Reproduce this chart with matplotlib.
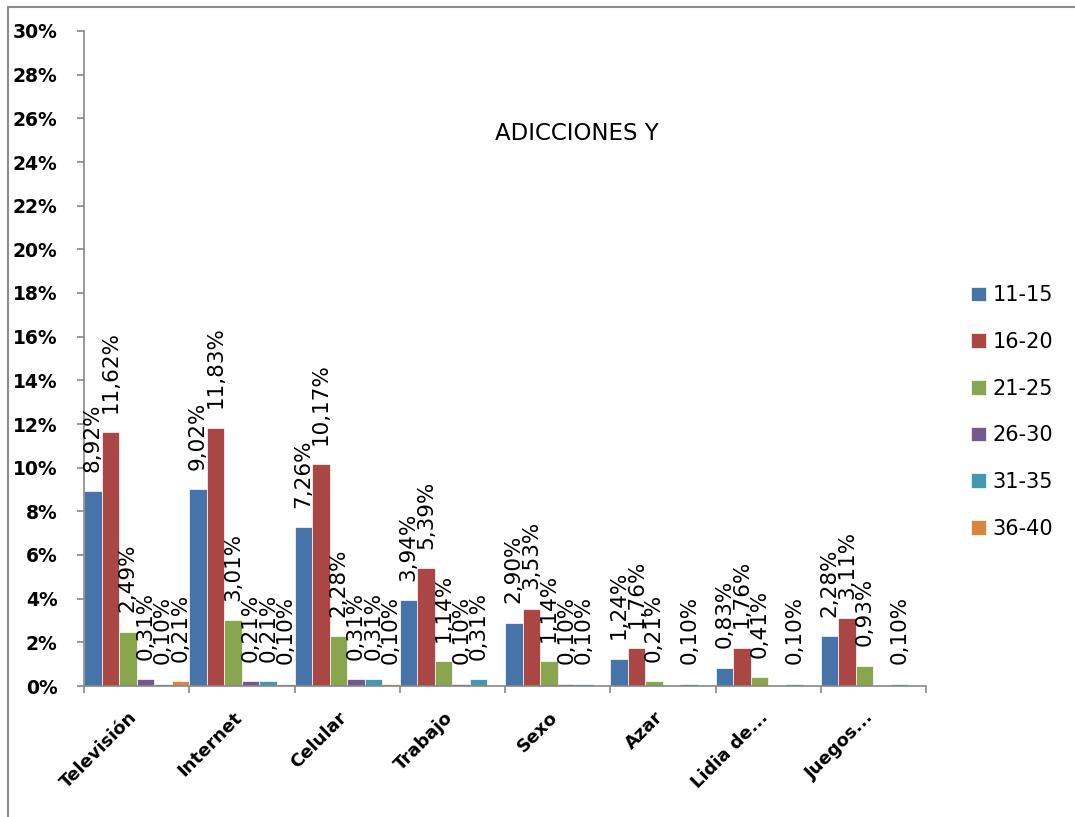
import numpy as np
import matplotlib
matplotlib.use("Agg")
import matplotlib.pyplot as plt
from matplotlib.lines import Line2D
from matplotlib.ticker import FuncFormatter, MultipleLocator

categories = ["Televisión", "Internet", "Celular", "Trabajo", "Sexo", "Azar",
              "Lidia de...", "Juegos..."]
groups = ["11-15", "16-20", "21-25", "26-30", "31-35", "36-40"]

# percentage per age group, one list per group across the categories
g11_15 = [8.92, 9.02, 7.26, 3.94, 2.90, 1.24, 0.83, 2.28]
g16_20 = [11.62, 11.83, 10.17, 5.39, 3.53, 1.76, 1.76, 3.11]
g21_25 = [2.49, 3.01, 2.28, 1.14, 1.14, 0.21, 0.41, 0.93]
g26_30 = [0.31, 0.21, 0.31, 0.10, 0.10, 0.0, 0.0, 0.0]
g31_35 = [0.10, 0.21, 0.31, 0.31, 0.10, 0.10, 0.10, 0.10]
g36_40 = [0.21, 0.10, 0.10, 0.0, 0.0, 0.0, 0.0, 0.0]

series = [g11_15, g16_20, g21_25, g26_30, g31_35, g36_40]
colors = ["#4673A8", "#AA4643", "#89A54E", "#71588F", "#4198AF", "#DB843D"]

W, H = 1075, 817
fig = plt.figure(figsize=(W / 100, H / 100), dpi=100)
ax = fig.add_axes([84 / W, 1 - 686 / H, (926 - 84) / W, (686 - 31) / H])

x = np.arange(len(categories))
bw = 1 / len(groups)
for i, (vals, col, name) in enumerate(zip(series, colors, groups)):
    pos = x - 0.5 + bw * (i + 0.5)
    ax.bar(pos, vals, width=bw, color=col, edgecolor="white", linewidth=0.5,
           label=name)
    for px, v in zip(pos, vals):
        if v <= 0:
            continue
        ax.annotate(f"{v:.2f}%".replace(".", ","), (px, v),
                    xytext=(0, 14), textcoords="offset points",
                    rotation=90, ha="center", va="bottom", fontsize=15.5)

ax.set_xlim(-0.5, len(categories) - 0.5)
ax.set_ylim(0, 30)
ax.yaxis.set_major_locator(MultipleLocator(2))
ax.yaxis.set_major_formatter(FuncFormatter(lambda v, p: f"{v:.0f}%"))

# category names sit a little left of the group centre
ax.set_xticks(x - 0.085)
ax.set_xticklabels(categories, rotation=45, ha="right", va="top",
                   rotation_mode="anchor", fontweight="bold", fontsize=13)
ax.set_xticks(np.arange(len(categories) + 1) - 0.5, minor=True)
ax.tick_params(axis="x", which="major", length=0, pad=16)
ax.tick_params(axis="x", which="minor", length=5, width=1.2, color="#888888",
               direction="out")
ax.tick_params(axis="y", length=5, width=1.2, color="#888888", pad=14,
               labelsize=13.5)
for lab in ax.get_yticklabels():
    lab.set_fontweight("bold")

for side in ("top", "right"):
    ax.spines[side].set_visible(False)
for side in ("left", "bottom"):
    ax.spines[side].set_color("#888888")
    ax.spines[side].set_linewidth(1.2)

fig.text(577 / W, 1 - 133 / H, "ADICCIONES Y", ha="center", va="center",
         fontsize=16.5)

fig.legend(loc="center left", bbox_to_anchor=(971 / W, 1 - 412 / H),
           frameon=False, fontsize=15, handlelength=0.7, handleheight=0.7,
           handletextpad=0.35, labelspacing=1.28, borderpad=0,
           borderaxespad=0)

# outer chart frame (left and top edges)
fig.add_artist(Line2D([8 / W, 8 / W], [0, 1 - 7 / H], transform=fig.transFigure,
                      color="#8c8c8c", linewidth=1.5))
fig.add_artist(Line2D([8 / W, 1], [1 - 7 / H, 1 - 7 / H],
                      transform=fig.transFigure, color="#8c8c8c",
                      linewidth=1.5))

fig.savefig("out.png", dpi=100)
